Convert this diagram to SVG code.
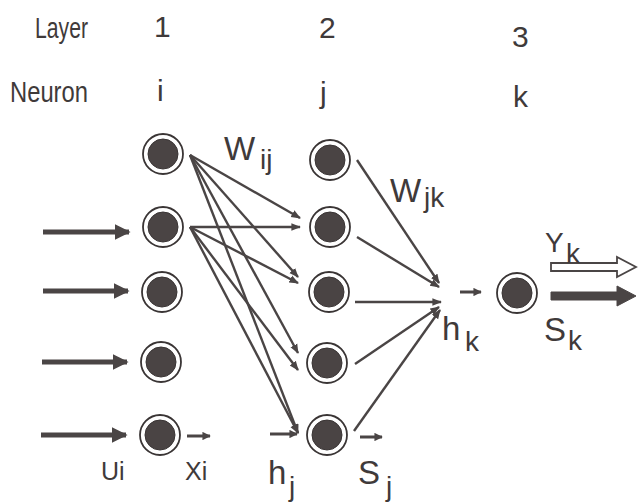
<svg xmlns="http://www.w3.org/2000/svg" width="643" height="502" viewBox="0 0 643 502">
<defs>
<style>
text{font-family:"Liberation Sans","DejaVu Sans",sans-serif;fill:#3f3a3a;}
.hd{font-size:29px;}
.dg{font-size:30px;}
.big{font-size:33px;}
.sub{font-size:28px;}
.io{font-size:25px;}
.ring{fill:#fff;stroke:#3a3535;stroke-width:1.8;}
.core{fill:#4a4444;stroke:#3a3535;stroke-width:1;}
.w{stroke:#4a4545;stroke-width:2.4;fill:none;marker-end:url(#ah);}
.in{stroke:#4a4545;stroke-width:5;fill:none;marker-end:url(#big);}
.sm{stroke:#4a4545;stroke-width:3;fill:none;marker-end:url(#smh);}
</style>
<marker id="ah" viewBox="0 0 10 10" refX="9" refY="5" markerWidth="4" markerHeight="4" orient="auto" markerUnits="strokeWidth"><path d="M0,1 L10,5 L0,9 z" fill="#4a4545"/></marker>
<marker id="big" viewBox="0 0 10 10" refX="9" refY="5" markerWidth="3.2" markerHeight="3.2" orient="auto" markerUnits="strokeWidth"><path d="M0,0 L10,5 L0,10 z" fill="#4a4545"/></marker>
<marker id="smh" viewBox="0 0 10 10" refX="9" refY="5" markerWidth="2.8" markerHeight="2.8" orient="auto" markerUnits="strokeWidth"><path d="M0,0 L10,5 L0,10 z" fill="#4a4545"/></marker>
</defs>

<g id="headers">
<text class="hd" x="35" y="38" textLength="53" lengthAdjust="spacingAndGlyphs">Layer</text>
<text class="dg" x="154" y="37">1</text>
<text class="dg" x="319" y="38">2</text>
<text class="dg" x="512" y="47">3</text>
<text class="hd" x="10" y="102" textLength="78" lengthAdjust="spacingAndGlyphs">Neuron</text>
<text class="dg" x="157" y="101">i</text>
<text class="dg" x="320" y="103">j</text>
<text class="dg" x="513" y="107">k</text>
</g>

<g id="connectors">
<!-- inputs -->
<line class="in" x1="43" y1="232" x2="129" y2="232"/>
<line class="in" x1="43" y1="291" x2="128" y2="291"/>
<line class="in" x1="42" y1="362" x2="127" y2="362"/>
<line class="in" x1="41" y1="435" x2="126" y2="435"/>
<!-- layer1 to layer2 -->
<line class="w" x1="190" y1="155" x2="300" y2="218"/>
<line class="w" x1="190" y1="155" x2="298" y2="277"/>
<line class="w" x1="190" y1="155" x2="298" y2="353"/>
<line class="w" x1="190" y1="155" x2="298" y2="433"/>
<line class="w" x1="190" y1="227" x2="300" y2="227"/>
<line class="w" x1="190" y1="227" x2="298" y2="283"/>
<line class="w" x1="190" y1="227" x2="298" y2="370"/>
<line class="w" x1="190" y1="227" x2="298" y2="433"/>
<!-- layer2 to hk -->
<line class="w" x1="357" y1="160" x2="439" y2="283"/>
<line class="w" x1="357" y1="237" x2="439" y2="287"/>
<line class="w" x1="355" y1="302" x2="441" y2="302"/>
<line class="w" x1="355" y1="364" x2="439" y2="307"/>
<line class="w" x1="354" y1="431" x2="440" y2="310"/>
<!-- small arrows -->
<line class="sm" x1="187" y1="436" x2="210" y2="436"/>
<line class="sm" x1="270" y1="434" x2="297" y2="434"/>
<line class="sm" x1="360" y1="437" x2="382" y2="437"/>
<line class="sm" x1="460" y1="292" x2="481" y2="292"/>
<!-- outputs -->
<path d="M551,263 L617,263 L617,257 L636,267 L617,277 L617,271 L551,271 z" fill="#fff" stroke="#4a4545" stroke-width="1.8"/>
<path d="M551,292 L617,292 L617,286 L636,296 L617,306 L617,300 L551,300 z" fill="#4a4545" stroke="#4a4545" stroke-width="1"/>
</g>

<g id="n-i1"><circle class="ring" cx="163" cy="154" r="20"/><circle class="core" cx="163" cy="154" r="15"/></g>
<g id="n-i2"><circle class="ring" cx="163" cy="227" r="20"/><circle class="core" cx="163" cy="227" r="15"/></g>
<g id="n-i3"><circle class="ring" cx="162" cy="292" r="20"/><circle class="core" cx="162" cy="292" r="15"/></g>
<g id="n-i4"><circle class="ring" cx="161" cy="362" r="20"/><circle class="core" cx="161" cy="362" r="15"/></g>
<g id="n-i5"><circle class="ring" cx="160" cy="435" r="20"/><circle class="core" cx="160" cy="435" r="15"/></g>

<g id="n-j1"><circle class="ring" cx="330" cy="160" r="20"/><circle class="core" cx="330" cy="160" r="15"/></g>
<g id="n-j2"><circle class="ring" cx="330" cy="227" r="20"/><circle class="core" cx="330" cy="227" r="15"/></g>
<g id="n-j3"><circle class="ring" cx="329" cy="292" r="20"/><circle class="core" cx="329" cy="292" r="15"/></g>
<g id="n-j4"><circle class="ring" cx="327" cy="363" r="20"/><circle class="core" cx="327" cy="363" r="15"/></g>
<g id="n-j5"><circle class="ring" cx="327" cy="435" r="20"/><circle class="core" cx="327" cy="435" r="15"/></g>

<g id="n-k"><circle class="ring" cx="517" cy="293" r="20"/><circle class="core" cx="517" cy="293" r="15"/></g>

<g id="labels">
<text class="big" x="224" y="160">W</text>
<text class="sub" x="260" y="169">ij</text>
<text class="big" x="390" y="202">W</text>
<text class="sub" x="424" y="207">jk</text>
<text class="sub" x="545" y="252">Y</text>
<text class="sub" x="566" y="263">k</text>
<text class="big" x="442" y="340">h</text>
<text class="sub" x="465" y="351">k</text>
<text class="big" x="544" y="341">S</text>
<text class="sub" x="568" y="350">k</text>
<text class="io" x="101" y="480">Ui</text>
<text class="io" x="185" y="480">Xi</text>
<text class="big" x="268" y="484">h</text>
<text class="sub" x="289" y="496">j</text>
<text class="big" x="358" y="484">S</text>
<text class="sub" x="386" y="496">j</text>
</g>
</svg>
